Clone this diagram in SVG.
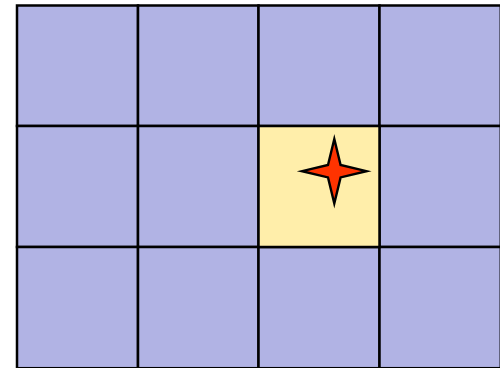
<svg xmlns="http://www.w3.org/2000/svg" width="500" height="368" viewBox="0 0 500 368">
<style>
.cell{fill:#b1b3e4;stroke:#000;stroke-width:2.5}
.hl{fill:#ffeeaa;stroke:#000;stroke-width:2.5}
.star{fill:#ff3300;stroke:#000;stroke-width:2.4;stroke-linejoin:miter;stroke-miterlimit:10}
</style>
<g id="grid">
<rect class="cell" x="17" y="5.5" width="121" height="120.5"/>
<rect class="cell" x="138" y="5.5" width="120.5" height="120.5"/>
<rect class="cell" x="258.5" y="5.5" width="121" height="120.5"/>
<rect class="cell" x="379.5" y="5.5" width="121.3" height="120.5"/>
<rect class="cell" x="17" y="126" width="121" height="121"/>
<rect class="cell" x="138" y="126" width="120.5" height="121"/>
<rect class="cell" x="379.5" y="126" width="121.3" height="121"/>
<rect class="cell" x="17" y="247" width="121" height="121.2"/>
<rect class="cell" x="138" y="247" width="120.5" height="121.2"/>
<rect class="cell" x="258.5" y="247" width="121" height="121.2"/>
<rect class="cell" x="379.5" y="247" width="121.3" height="121.2"/>
</g>
<g id="target">
<rect class="hl" x="258.5" y="126" width="121" height="121"/>
</g>
<g id="star">
<path class="star" d="M334.3,139 L340.6,165 L366.5,171.2 L340.6,177.4 L334.3,203.5 L328,177.4 L302,171.2 L328,165 Z"/>
</g>
</svg>
